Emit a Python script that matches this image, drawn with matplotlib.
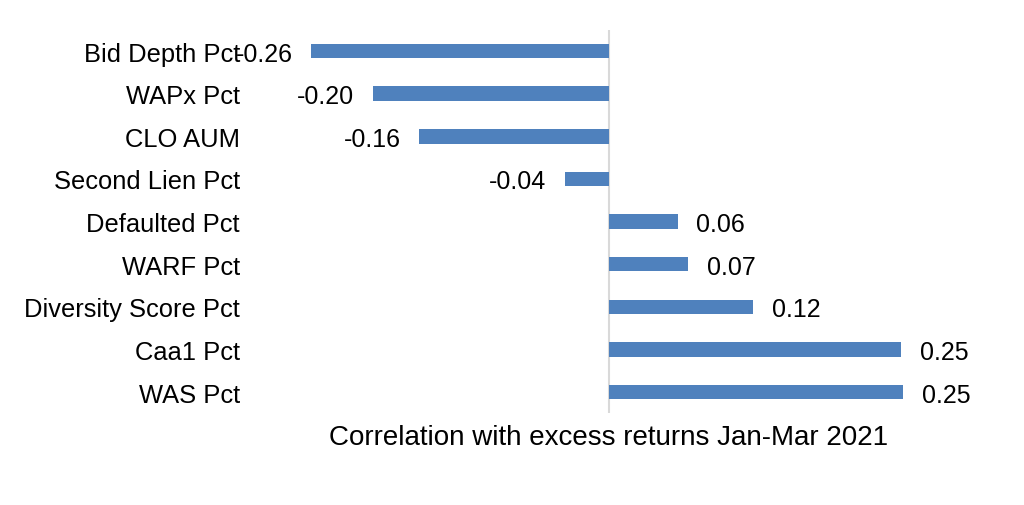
import matplotlib
matplotlib.use("Agg")
import matplotlib.pyplot as plt
import numpy as np

# correlation with excess returns, Jan-Mar 2021
categories = ["Bid Depth Pct", "WAPx Pct", "CLO AUM", "Second Lien Pct", "Defaulted Pct",
              "WARF Pct", "Diversity Score Pct", "Caa1 Pct", "WAS Pct"]
values = [-0.256, -0.203, -0.163, -0.038, 0.059, 0.068, 0.124, 0.251, 0.253]

plt.rcParams['font.family'] = ['Liberation Sans', 'DejaVu Sans']

fig = plt.figure(figsize=(10.24, 5.06), dpi=100)
ax = fig.add_axes([0.2539, 0.1812, 0.6816, 0.758])

y = np.arange(len(categories))
ax.barh(y, values, height=0.34, color='#4f81bd', zorder=2)
ax.axvline(0, color='#d9d9d9', lw=1.5, zorder=1)

for yi, v in zip(y, values):
    off = 13.5 if v > 0 else -13.5
    ax.annotate(f"{v:.2f}", (v, yi), xytext=(off, 0), textcoords='offset points',
                ha='left' if v > 0 else 'right', va='center_baseline', fontsize=18, color='black')

ax.set_xlim(-0.3, 0.3)
ax.set_ylim(len(categories) - 0.5, -0.5)
ax.set_yticks(y)
ax.set_yticklabels(categories, fontsize=18.4, va='center_baseline')
ax.tick_params(axis='y', length=0, pad=14.4)
ax.set_xticks([])
ax.set_xlabel("Correlation with excess returns Jan-Mar 2021", fontsize=20, labelpad=8)
for s in ax.spines.values():
    s.set_visible(False)

fig.savefig("out.png", dpi=100)
